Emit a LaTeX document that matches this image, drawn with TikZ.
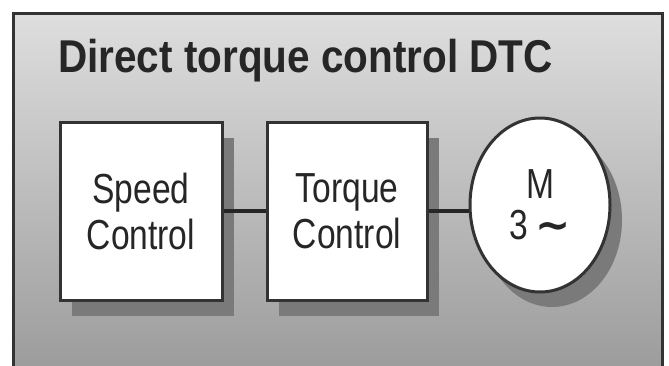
\documentclass[tikz,border=0pt]{standalone}
\usepackage{fontspec}
\usetikzlibrary{shapes.geometric, shadows}
\newfontfamily\titlefont[FakeStretch=0.88]{Liberation Sans}
\newfontfamily\boxfont[FakeStretch=0.8]{Liberation Sans}
\newfontfamily\tildefont{DejaVu Sans}
\definecolor{frameline}{HTML}{333333}
\definecolor{shadowgray}{HTML}{7A7A7A}
\tikzstyle{block} = [rectangle, minimum width=160pt, minimum height=178pt, inner sep=0pt, align=center, fill=white, draw=frameline, line width=3pt, font=\boxfont\fontsize{42}{46}\selectfont, text=black!85, drop shadow={shadow xshift=12pt, shadow yshift=-16pt, fill=shadowgray, opacity=1}]
\tikzstyle{motor} = [ellipse, minimum width=140pt, minimum height=174pt, inner sep=0pt, align=center, fill=white, draw=frameline, line width=3pt, font=\boxfont\fontsize{42}{41}\selectfont, text=black!85, drop shadow={shadow xshift=12pt, shadow yshift=-15pt, fill=shadowgray, opacity=1}]
\tikzstyle{link} = [line width=4.5pt, draw=black!85]

\begin{document}
\begin{tikzpicture}[x=1pt, y=1pt]
\useasboundingbox (0,0) rectangle (669,365);
\clip (0,0) rectangle (669,365);
% outer frame
\shade[top color=black!13, bottom color=black!40] (13,351) rectangle (662,-20);
\draw[frameline, line width=3pt] (13,351) rectangle (662,-20);

\node (title) [anchor=base west, inner sep=0pt, font=\titlefont\bfseries\fontsize{46}{50}\selectfont, text=black!85] at (58,292) {Direct torque control DTC};

\node (speed) [block, minimum width=162pt] at (141,154) {Speed\\Control};
\node (torque) [block, right of=speed, node distance=206pt] {Torque\\Control};
\node (motor) [motor, right of=torque, node distance=193pt, yshift=6pt] {M\\3\,{\tildefont\bfseries ∼}};

\draw [link] (speed) -- (torque);
\draw [link] (torque.east) -- (torque.east -| motor.west);
\end{tikzpicture}
\end{document}
